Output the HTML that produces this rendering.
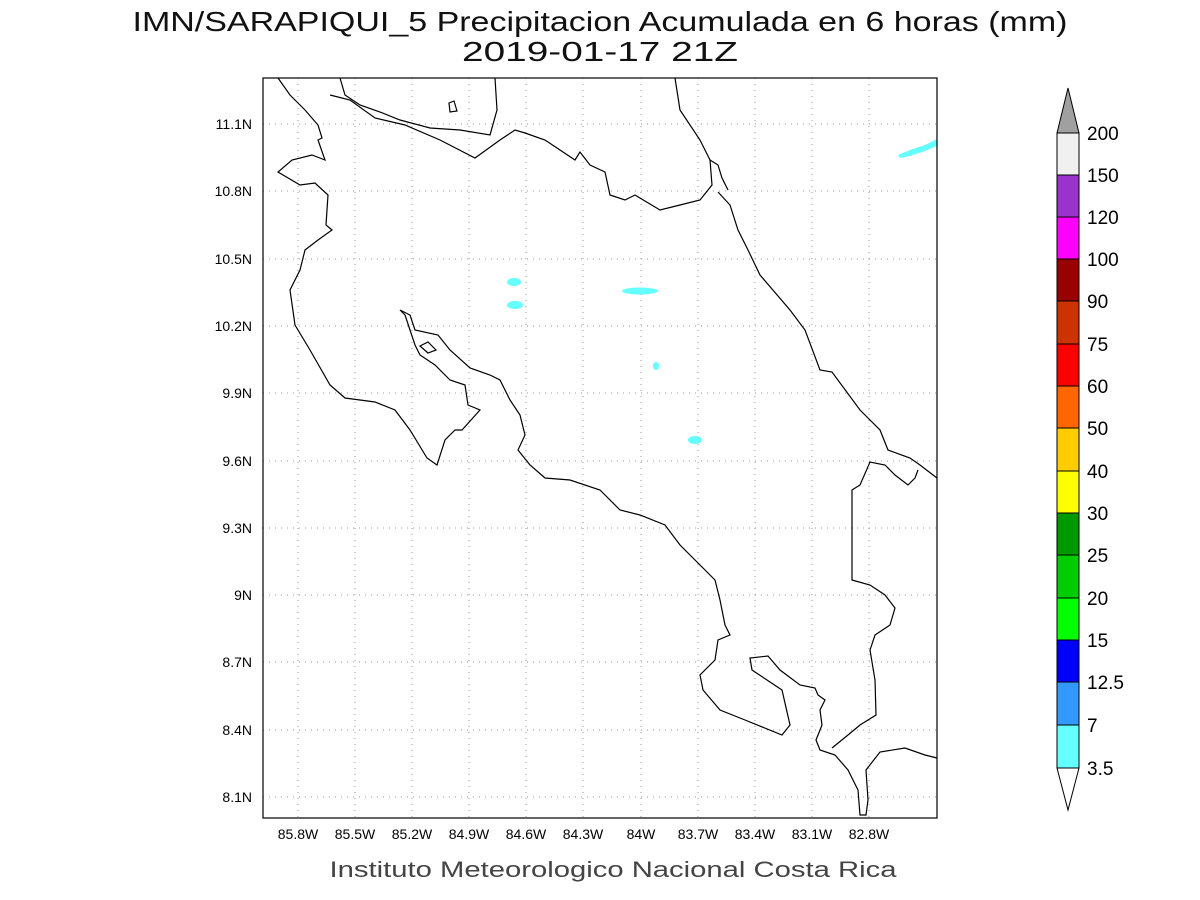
<!DOCTYPE html>
<html><head><meta charset="utf-8"><style>body{margin:0;background:#fff}svg{display:block}</style></head><body>
<svg width="1200" height="900" viewBox="0 0 1200 900" xmlns="http://www.w3.org/2000/svg" font-family="Liberation Sans, sans-serif">
<rect width="1200" height="900" fill="#fff"/>
<text x="600" y="31" font-size="28" text-anchor="middle" textLength="935" lengthAdjust="spacingAndGlyphs" fill="#111">IMN/SARAPIQUI_5 Precipitacion Acumulada en 6 horas (mm)</text>
<text x="600" y="61" font-size="28" text-anchor="middle" textLength="276" lengthAdjust="spacingAndGlyphs" fill="#111">2019-01-17 21Z</text>
<g stroke="#999" stroke-width="1" stroke-dasharray="1,5">
<line x1="298" y1="78" x2="298" y2="818"/><line x1="355" y1="78" x2="355" y2="818"/><line x1="412" y1="78" x2="412" y2="818"/><line x1="469" y1="78" x2="469" y2="818"/><line x1="526" y1="78" x2="526" y2="818"/><line x1="583" y1="78" x2="583" y2="818"/><line x1="641" y1="78" x2="641" y2="818"/><line x1="698" y1="78" x2="698" y2="818"/><line x1="755" y1="78" x2="755" y2="818"/><line x1="812" y1="78" x2="812" y2="818"/><line x1="869" y1="78" x2="869" y2="818"/>
<line x1="263" y1="124" x2="937" y2="124"/><line x1="263" y1="191" x2="937" y2="191"/><line x1="263" y1="259" x2="937" y2="259"/><line x1="263" y1="326" x2="937" y2="326"/><line x1="263" y1="393" x2="937" y2="393"/><line x1="263" y1="461" x2="937" y2="461"/><line x1="263" y1="528" x2="937" y2="528"/><line x1="263" y1="595" x2="937" y2="595"/><line x1="263" y1="662" x2="937" y2="662"/><line x1="263" y1="730" x2="937" y2="730"/><line x1="263" y1="797" x2="937" y2="797"/>
</g>
<g fill="#66ffff">
<ellipse cx="514" cy="282" rx="7" ry="4"/><ellipse cx="515" cy="305" rx="8" ry="4"/><ellipse cx="640" cy="291" rx="18" ry="3.5"/><ellipse cx="656" cy="366" rx="3" ry="4"/><ellipse cx="695" cy="440" rx="7" ry="4"/><polygon points="898,155 910,150 925,145 937,139 937,146 925,151 910,156 900,158"/>
</g>
<g fill="none" stroke="#000" stroke-width="1.2">
<polyline points="278,78 290,95 305,110 318,125 322,138 318,140 325,160 312,155 292,160 278,172 300,185 315,183 328,195 326,225 332,230 318,240 305,250 300,270 290,290 295,325 310,350 330,385 345,398 375,402 395,410 410,430 427,458 437,465 445,440 455,430 462,430 480,410 468,405 465,385 450,380 435,365 420,355 415,345 405,315 400,310 410,315 415,330 438,335 450,350 470,368 490,375 500,380 510,400 520,415 525,435 518,450 530,465 545,478 570,480 600,490 620,510 640,515 665,525 680,545 700,565 715,580 720,600 725,625 730,635 718,640 715,660 700,675 703,690 720,710 745,720 782,735 790,725 782,690 770,682 752,670 750,658 768,656 780,670 800,685 815,688 818,695 825,700 820,710 822,725 816,740 820,750 835,755 848,770 858,790 860,815 866,815 868,800 866,770 880,752 905,748 925,755 937,758"/>
<polygon points="420,346 428,342 436,350 428,353"/>
<polygon points="449,103 454,101 457,111 450,112"/>
<polyline points="340,78 345,95 360,105 380,112 400,120 430,128 460,130 490,135 497,110 495,78"/>
<polyline points="330,95 350,100 375,118 405,125 440,140 475,158 500,140 515,130 525,133 545,140 560,150 575,160 580,152 590,165 605,172 610,195 625,200 635,195 660,210 680,205 700,200 712,185 710,160 718,165 722,178 728,190"/>
<polyline points="675,78 680,110 700,140 710,160"/>
<polyline points="718,192 730,205 738,230 748,250 760,275 790,310 805,330 820,370 832,372 860,410 880,430 888,450 910,458 920,465 937,478"/>
<polyline points="918,470 915,478 908,485 895,475 885,465 870,462 860,485 852,490 852,580 870,585 885,595 895,608 890,625 875,635 870,650 875,680 876,715 860,725 848,735 832,748"/>
</g>
<rect x="263" y="78" width="674" height="740" fill="none" stroke="#000" stroke-width="1.2"/>
<g font-size="14" text-anchor="end" fill="#000">
<text x="252" y="129">11.1N</text><text x="252" y="196">10.8N</text><text x="252" y="264">10.5N</text><text x="252" y="331">10.2N</text><text x="252" y="398">9.9N</text><text x="252" y="466">9.6N</text><text x="252" y="533">9.3N</text><text x="252" y="600">9N</text><text x="252" y="667">8.7N</text><text x="252" y="735">8.4N</text><text x="252" y="802">8.1N</text>
</g>
<g font-size="14" text-anchor="middle" fill="#000">
<text x="298" y="839">85.8W</text><text x="355" y="839">85.5W</text><text x="412" y="839">85.2W</text><text x="469" y="839">84.9W</text><text x="526" y="839">84.6W</text><text x="583" y="839">84.3W</text><text x="641" y="839">84W</text><text x="698" y="839">83.7W</text><text x="755" y="839">83.4W</text><text x="812" y="839">83.1W</text><text x="869" y="839">82.8W</text>
</g>
<text x="613" y="877" font-size="22" text-anchor="middle" textLength="567" lengthAdjust="spacingAndGlyphs" fill="#444">Instituto Meteorologico Nacional Costa Rica</text>
<g stroke="#000" stroke-width="1">
<polygon points="1057,133 1079,133 1068,88" fill="#a0a0a0"/>
<rect x="1057" y="133" width="22" height="42" fill="#f0f0f0"/>
<rect x="1057" y="175" width="22" height="42" fill="#9933cc"/>
<rect x="1057" y="217" width="22" height="42" fill="#ff00ff"/>
<rect x="1057" y="259" width="22" height="42" fill="#990000"/>
<rect x="1057" y="301" width="22" height="43" fill="#cc3300"/>
<rect x="1057" y="344" width="22" height="42" fill="#ff0000"/>
<rect x="1057" y="386" width="22" height="42" fill="#ff6600"/>
<rect x="1057" y="428" width="22" height="43" fill="#ffcc00"/>
<rect x="1057" y="471" width="22" height="42" fill="#ffff00"/>
<rect x="1057" y="513" width="22" height="42" fill="#009900"/>
<rect x="1057" y="555" width="22" height="43" fill="#00cc00"/>
<rect x="1057" y="598" width="22" height="42" fill="#00ff00"/>
<rect x="1057" y="640" width="22" height="42" fill="#0000ff"/>
<rect x="1057" y="682" width="22" height="43" fill="#3399ff"/>
<rect x="1057" y="725" width="22" height="43" fill="#66ffff"/>
<polygon points="1057,768 1079,768 1068,810" fill="#fff"/>
</g>
<g font-size="19" fill="#000">
<text x="1087" y="140">200</text><text x="1087" y="182">150</text><text x="1087" y="224">120</text><text x="1087" y="266">100</text><text x="1087" y="308">90</text><text x="1087" y="351">75</text><text x="1087" y="393">60</text><text x="1087" y="435">50</text><text x="1087" y="478">40</text><text x="1087" y="520">30</text><text x="1087" y="562">25</text><text x="1087" y="605">20</text><text x="1087" y="647">15</text><text x="1087" y="689">12.5</text><text x="1087" y="732">7</text><text x="1087" y="775">3.5</text>
</g>
</svg>
</body></html>
